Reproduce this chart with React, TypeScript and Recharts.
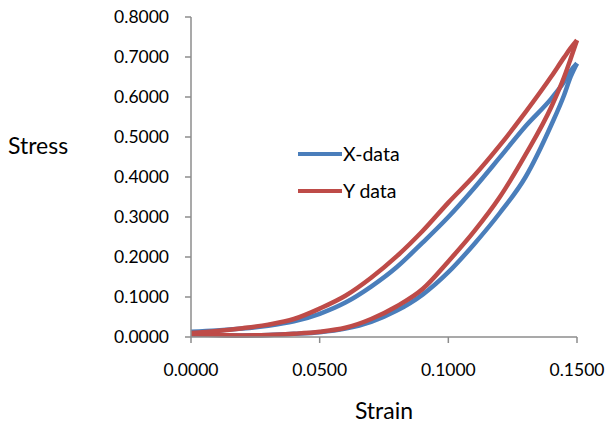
import { LineChart, Line, XAxis, YAxis, Legend, Label } from "recharts";

// strain grid shared by both loops
const strainGrid = [0, 0.01, 0.02, 0.03, 0.04, 0.05, 0.06, 0.07, 0.08, 0.09, 0.1, 0.11, 0.12, 0.13, 0.14, 0.145, 0.1475, 0.15];

// lower branch (loading) and upper branch (unloading) of each loop
const xLoading = [0.006, 0.005, 0.004, 0.005, 0.008, 0.012, 0.021, 0.038, 0.066, 0.106, 0.162, 0.232, 0.31, 0.4, 0.53, 0.605, 0.65, 0.684];
const xUnloading = [0.013, 0.016, 0.021, 0.028, 0.039, 0.058, 0.086, 0.126, 0.175, 0.236, 0.3, 0.372, 0.449, 0.527, 0.596, 0.638, 0.665, 0.684];
const yLoading = [0.007, 0.005, 0.004, 0.005, 0.008, 0.013, 0.023, 0.045, 0.077, 0.12, 0.189, 0.264, 0.35, 0.456, 0.575, 0.65, 0.695, 0.742];
const yUnloading = [0.01, 0.015, 0.022, 0.031, 0.045, 0.071, 0.103, 0.148, 0.202, 0.265, 0.336, 0.403, 0.479, 0.562, 0.651, 0.699, 0.722, 0.742];

const strainTicks = [0, 0.05, 0.1, 0.15];
const stressTicks = [0, 0.1, 0.2, 0.3, 0.4, 0.5, 0.6, 0.7, 0.8];

const BLUE = "#4a7ebb";
const RED = "#be4b48";
const AXIS = "#8c8c8c";
const FONT = "Lato, 'Open Sans', sans-serif";

const branch = (vals: number[]) => strainGrid.map((s, i) => ({ strain: s, stress: vals[i] }));

const series = [
  { name: "X-data", color: BLUE, up: branch(xLoading), down: branch(xUnloading) },
  { name: "Y data", color: RED, up: branch(yLoading), down: branch(yUnloading) },
];

const LegendBox = () => (
  <div style={{ fontFamily: FONT, fontSize: 19.5, color: "#000" }}>
    {series.map((it) => (
      <div key={it.name} style={{ display: "flex", alignItems: "center", height: 37 }}>
        <div style={{ width: 44, height: 4, background: it.color, marginRight: 1 }} />
        <span>{it.name}</span>
      </div>
    ))}
  </div>
);

const fmt = (v: number) => v.toFixed(4);

export default function App() {
  return (
    <div style={{ position: "absolute", left: 0, top: 0, background: "#fff" }}>
      <LineChart width={610} height={424} margin={{ top: 17, right: 33, left: 71, bottom: 27 }}>
        <XAxis
          dataKey="strain"
          type="number"
          domain={[0, 0.15]}
          ticks={strainTicks}
          tickFormatter={fmt}
          height={60}
          stroke={AXIS}
          strokeWidth={1.5}
          tickSize={6}
          tickMargin={21}
          tick={{ fill: "#000", fontSize: 17.5, fontFamily: FONT }}
          allowDuplicatedCategory={false}
        >
          <Label
            value="Strain"
            position="bottom"
            offset={6}
            style={{ fill: "#000", fontSize: 23, fontFamily: FONT }}
          />
        </XAxis>
        <YAxis
          type="number"
          domain={[0, 0.8]}
          ticks={stressTicks}
          tickFormatter={fmt}
          width={120}
          stroke={AXIS}
          strokeWidth={1.5}
          tickSize={6}
          tickMargin={16}
          tick={{ fill: "#000", fontSize: 17.5, fontFamily: FONT }}
        >
          <Label
            content={() => (
              <text x={8} y={154} fill="#000" fontSize={23} fontFamily={FONT}>
                Stress
              </text>
            )}
          />
        </YAxis>
        <Legend
          layout="horizontal"
          verticalAlign="middle"
          align="center"
          wrapperStyle={{ left: 298, top: 135, width: 140 }}
          content={() => <LegendBox />}
        />
        {series.map((s) => [
          <Line
            key={s.name + "-up"}
            data={s.up}
            dataKey="stress"
            name={s.name}
            type="monotone"
            stroke={s.color}
            strokeWidth={4.5}
            dot={false}
            isAnimationActive={false}
          />,
          <Line
            key={s.name + "-down"}
            data={s.down}
            dataKey="stress"
            name={s.name}
            type="monotone"
            stroke={s.color}
            strokeWidth={4.5}
            dot={false}
            isAnimationActive={false}
            legendType="none"
          />,
        ])}
      </LineChart>
    </div>
  );
}
